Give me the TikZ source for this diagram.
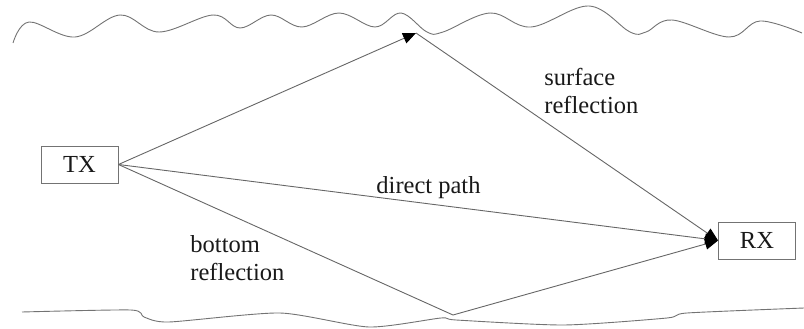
\documentclass[tikz,border=0pt]{standalone}
\usepackage{fontspec}
\setmainfont{Liberation Serif}
\usetikzlibrary{arrows.meta}

\begin{document}
\begin{tikzpicture}[x=1pt, y=-1pt, line width=0.9pt,
  font=\fontsize{24.5}{28}\selectfont,
  box/.style={draw=black!55, minimum width=77pt, minimum height=37pt, inner sep=0pt, text=black!90},
  ray/.style={draw=black!60, -{Triangle[length=13pt,width=11pt,color=black]}},
  lbl/.style={inner sep=0pt, align=left, text=black!90}]
 \useasboundingbox (0,0) rectangle (804,329);

 % surface and bottom
 \draw[black!55] plot[smooth, tension=0.6] coordinates {
   (13,43) (29,22) (75,37) (120,15) (159,32) (213,15) (240,28) (271,15)
   (302,27) (339,13) (375,27) (401,13) (427,32) (443,32) (490,13) (531,27)
   (589,6) (630,32) (646,32) (672,20) (729,37) (760,21) (802,33)};
 \draw[black!55] plot[smooth, tension=0.4] coordinates {
   (22,312) (131,310) (144,317) (169,322) (280,313) (369,327) (441,318)
   (456,320) (564,325) (667,318) (687,313) (804,308)};

 \node[box] (tx) at (79.5,164.5) {TX};
 \node[box] (rx) at (757,240.5) {RX};
 \coordinate (s) at (416,33);
 \coordinate (b) at (453,315);

 \draw[ray] (tx.east) -- (s);
 \draw[ray] (s) -- (rx.west);
 \draw[ray] (tx.east) -- (rx.west);
 \draw[ray] (tx.east) -- (b) -- (rx.west);

 \node[lbl, anchor=north west] (sl) at (544,68) {surface\\reflection};
 \node[lbl, anchor=base west] (dl) at (376,193) {direct path};
 \node[lbl, anchor=north west] (bl) at (190,235) {bottom\\reflection};
\end{tikzpicture}
\end{document}
